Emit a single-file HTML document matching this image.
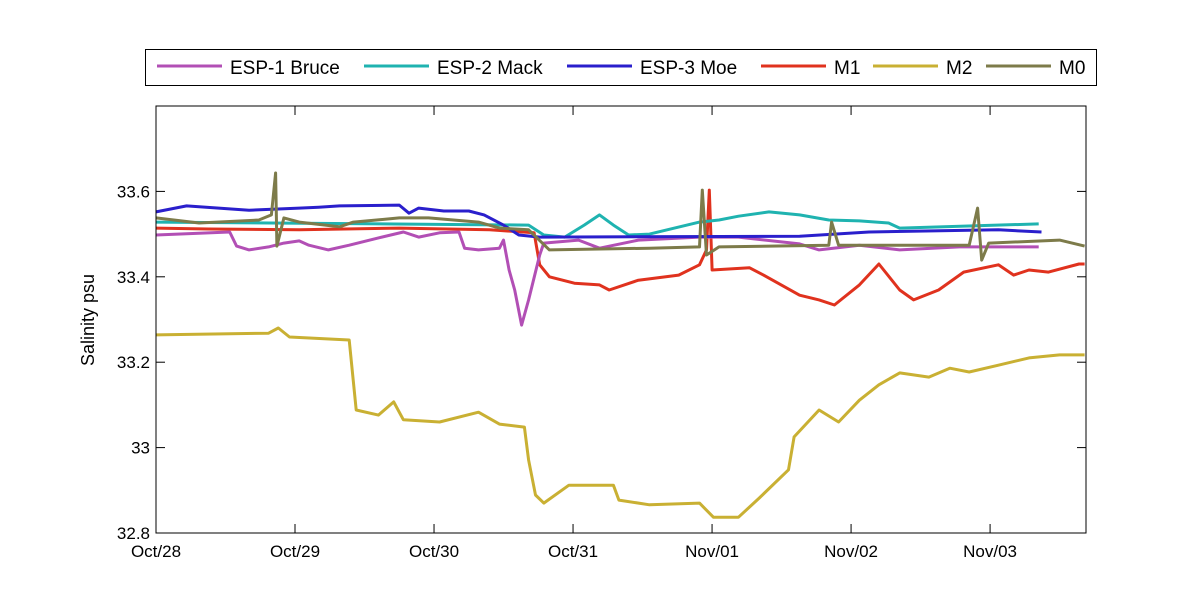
<!DOCTYPE html>
<html><head><meta charset="utf-8"><style>
body{margin:0;background:#fff;}
svg text{font-family:"Liberation Sans",Arial,sans-serif;}
</style></head><body>
<svg id="chart" width="1200" height="600" viewBox="0 0 1200 600" xmlns="http://www.w3.org/2000/svg">
<rect x="0" y="0" width="1200" height="600" fill="#fff"/>
<g id="plot"></g>
<g id="axes"></g>
<text x="94" y="320" font-size="18" text-anchor="middle" transform="rotate(-90 94 320)">Salinity psu</text>
<g id="legend"></g>
</svg>
<script>
const yTicks = [32.8, 33, 33.2, 33.4, 33.6];
const yTickLabels = ["32.8", "33", "33.2", "33.4", "33.6"];
const xTicks = [0, 1, 2, 3, 4, 5, 6];
const xTickLabels = ["Oct/28", "Oct/29", "Oct/30", "Oct/31", "Nov/01", "Nov/02", "Nov/03"];
const seriesNames = ["ESP-1 Bruce", "ESP-2 Mack", "ESP-3 Moe", "M1", "M2", "M0"];
const seriesColors = ["#b24fb5", "#1fb3b0", "#2a1fcc", "#e0321e", "#c9b033", "#7d7b4a"];

const bruceT = [0,0.53,0.58,0.67,0.81,0.92,1.03,1.10,1.24,1.39,1.60,1.78,1.89,2.04,2.18,2.22,2.32,2.47,2.50,2.54,2.58,2.63,2.68,2.76,2.79,3.04,3.19,3.47,3.91,4.19,4.63,4.77,5.06,5.35,5.78,6.35];
const bruceV = [33.498,33.505,33.472,33.463,33.470,33.479,33.484,33.474,33.463,33.474,33.491,33.505,33.493,33.503,33.505,33.467,33.463,33.467,33.486,33.416,33.369,33.287,33.346,33.451,33.479,33.486,33.467,33.486,33.493,33.493,33.477,33.463,33.474,33.463,33.470,33.470];

const mackT = [0,2.68,2.79,2.94,3.08,3.19,3.29,3.40,3.55,3.91,4.05,4.19,4.41,4.63,4.84,5.06,5.27,5.35,6.35];
const mackV = [33.528,33.521,33.498,33.493,33.521,33.545,33.521,33.498,33.500,33.528,33.533,33.542,33.552,33.545,33.533,33.531,33.526,33.514,33.524];

const moeT = [0,0.22,0.67,1.03,1.17,1.32,1.75,1.82,1.89,2.07,2.25,2.36,2.50,2.61,2.76,4.63,5.13,6.06,6.37];
const moeV = [33.552,33.566,33.556,33.561,33.563,33.566,33.568,33.549,33.561,33.554,33.554,33.545,33.521,33.498,33.493,33.495,33.505,33.510,33.505];

const m1T = [0,0.38,1.03,1.75,2.40,2.72,2.76,2.83,3.01,3.19,3.26,3.47,3.76,3.91,3.96,3.98,4.00,4.27,4.37,4.63,4.77,4.88,5.06,5.20,5.35,5.45,5.63,5.81,6.06,6.17,6.28,6.42,6.64,6.68];
const m1V = [33.514,33.512,33.510,33.514,33.510,33.503,33.428,33.400,33.385,33.381,33.369,33.392,33.404,33.428,33.463,33.603,33.416,33.421,33.404,33.357,33.346,33.334,33.381,33.430,33.369,33.346,33.369,33.411,33.428,33.404,33.416,33.411,33.430,33.430];

const m2T = [0,0.81,0.88,0.96,1.39,1.44,1.60,1.71,1.78,2.04,2.32,2.47,2.65,2.68,2.73,2.79,2.97,3.29,3.33,3.55,3.91,4.01,4.19,4.34,4.55,4.59,4.77,4.91,5.06,5.20,5.35,5.56,5.71,5.85,6.06,6.28,6.50,6.68];
const m2V = [33.264,33.268,33.280,33.259,33.252,33.088,33.076,33.107,33.065,33.060,33.083,33.055,33.048,32.971,32.889,32.870,32.912,32.912,32.877,32.866,32.870,32.837,32.837,32.882,32.948,33.025,33.088,33.060,33.111,33.147,33.175,33.165,33.186,33.177,33.193,33.210,33.217,33.217];

const m0T = [0,0.31,0.74,0.83,0.86,0.87,0.92,1.03,1.32,1.42,1.75,1.96,2.32,2.47,2.68,2.83,3.55,3.91,3.93,3.96,4.05,4.84,4.86,4.91,5.85,5.91,5.94,5.99,6.50,6.68];
const m0V = [33.538,33.526,33.533,33.545,33.643,33.472,33.538,33.528,33.517,33.528,33.538,33.538,33.528,33.514,33.510,33.463,33.467,33.470,33.603,33.451,33.470,33.474,33.528,33.474,33.474,33.561,33.439,33.479,33.486,33.472];

const seriesT = [bruceT, mackT, moeT, m1T, m2T, m0T];
const seriesV = [bruceV, mackV, moeV, m1V, m2V, m0V];

const L = 156, R = 1086, T = 106, B = 533;
const xMin = 0, xMax = 6.69, yMin = 32.8, yMax = 33.8;
function xs(t){ return L + (t - xMin) / (xMax - xMin) * (R - L); }
function ys(v){ return B - (v - yMin) / (yMax - yMin) * (B - T); }
const NS = "http://www.w3.org/2000/svg";
function mk(tag, attrs, parent){ const e = document.createElementNS(NS, tag); for (const k in attrs) e.setAttribute(k, attrs[k]); parent.appendChild(e); return e; }

const plot = document.getElementById('plot');
const drawOrder = [3, 4, 0, 1, 2, 5];
drawOrder.forEach(i => {
  const pts = seriesT[i].map((t, j) => xs(t).toFixed(1) + "," + ys(seriesV[i][j]).toFixed(1)).join(" ");
  const pl = mk('polyline', {points: pts, fill: 'none', stroke: seriesColors[i], 'stroke-width': 3, 'stroke-linejoin': 'round'}, plot);
  
  
});

const axes = document.getElementById('axes');
const frame = mk('rect', {x: L, y: T, width: R - L, height: B - T, fill: 'none', stroke: '#000', 'stroke-width': 1}, axes);


yTicks.forEach((v, i) => {
  const y = ys(v);
  mk('line', {x1: L, x2: L + 9, y1: y, y2: y, stroke: '#000'}, axes);
  mk('line', {x1: R - 9, x2: R, y1: y, y2: y, stroke: '#000'}, axes);
  const tx = mk('text', {x: L - 6, y: y + 6, 'font-size': 17, 'text-anchor': 'end'}, axes);
  tx.textContent = yTickLabels[i];
  
  
});
xTicks.forEach((t, i) => {
  const x = xs(t);
  mk('line', {x1: x, x2: x, y1: B, y2: B - 9, stroke: '#000'}, axes);
  mk('line', {x1: x, x2: x, y1: T, y2: T + 9, stroke: '#000'}, axes);
  const tx = mk('text', {x: x, y: B + 24, 'font-size': 17, 'text-anchor': 'middle'}, axes);
  tx.textContent = xTickLabels[i];
  
  
});

const lg = document.getElementById('legend');
const box = mk('rect', {x: 145.5, y: 49.5, width: 951, height: 36, fill: '#fff', stroke: '#000'}, lg);


const legendX = [157, 364, 567, 761, 873, 986];
seriesNames.forEach((n, i) => {
  const g = mk('g', {}, lg);
  
  
  const x0 = legendX[i];
  mk('line', {x1: x0, x2: x0 + 65, y1: 66, y2: 66, stroke: seriesColors[i], 'stroke-width': 3}, g);
  const tx = mk('text', {x: x0 + 73, y: 74, 'font-size': 19}, g);
  tx.textContent = n;
});
</script>
</body></html>
